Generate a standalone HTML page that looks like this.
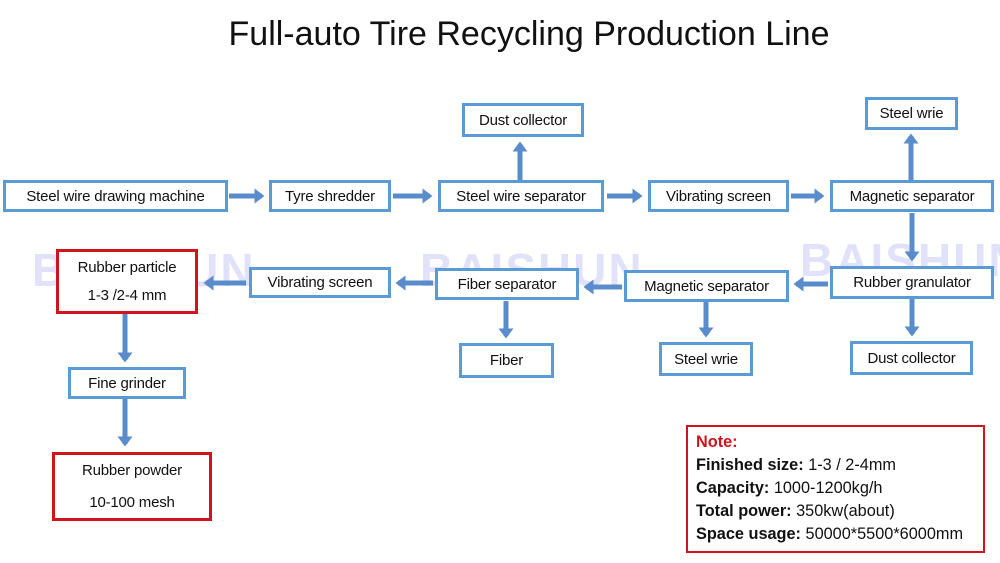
<!DOCTYPE html>
<html><head><meta charset="utf-8"><style>
body{margin:0;width:1000px;height:563px;background:#fff;position:relative;overflow:hidden;font-family:"Liberation Sans",sans-serif;}
.b{position:absolute;box-sizing:border-box;border:3px solid #5b9bd5;background:#fff;display:flex;align-items:center;justify-content:center;font-size:15px;color:#111;white-space:nowrap;letter-spacing:-0.2px}
.r{border-color:#d0141c;flex-direction:column;line-height:32px}
.wm{position:absolute;font-size:46px;font-weight:bold;color:rgba(120,120,230,0.22);letter-spacing:2px}
.note{position:absolute;left:686px;top:425px;width:299px;height:128px;box-sizing:border-box;border:2px solid #d0141c;padding:4px 0 0 8px;font-size:16.3px;line-height:23px;color:#111;white-space:nowrap}
</style></head><body>
<div style="position:absolute;left:0;top:15px;width:1058px;text-align:center;font-size:34px;color:#111">Full-auto Tire Recycling Production Line</div>
<div class="wm" style="left:32px;top:243px">BAISHUN</div>
<div class="wm" style="left:420px;top:243px">BAISHUN</div>
<div class="wm" style="left:800px;top:233px">BAISHUN</div>
<svg width="1000" height="563" style="position:absolute;left:0;top:0">
<defs><marker id="a" markerWidth="3" markerHeight="3" refX="1.5" refY="1.5" orient="auto"><path d="M0,0L2,1.5L0,3z" fill="#5a8ccb"/></marker></defs>
<g stroke="#5a8ccb" stroke-width="5" fill="none" marker-end="url(#a)">
<path d="M229 196H262"/><path d="M393 196H430"/><path d="M607 196H640"/><path d="M791 196H822"/>
<path d="M520 180V144"/><path d="M911 180V136"/><path d="M912 213V259"/>
<path d="M828 284H796"/><path d="M622 287H586"/><path d="M433 283H398"/><path d="M246 283H206"/>
<path d="M506 301V336"/><path d="M706 302V335"/><path d="M912 299V334"/>
<path d="M125 314V360"/><path d="M125 399V444"/>
</g></svg>
<div class="b" style="left:3px;top:180px;width:225px;height:32px">Steel wire drawing machine</div>
<div class="b" style="left:269px;top:180px;width:122px;height:32px">Tyre shredder</div>
<div class="b" style="left:438px;top:180px;width:166px;height:32px">Steel wire separator</div>
<div class="b" style="left:648px;top:180px;width:141px;height:32px">Vibrating screen</div>
<div class="b" style="left:830px;top:180px;width:164px;height:32px">Magnetic separator</div>
<div class="b" style="left:462px;top:103px;width:122px;height:34px">Dust collector</div>
<div class="b" style="left:865px;top:97px;width:93px;height:33px">Steel wrie</div>
<div class="b r" style="left:56px;top:249px;width:142px;height:65px"><span>Rubber particle</span><span style="margin-top:-4px">1-3 /2-4 mm</span></div>
<div class="b" style="left:249px;top:267px;width:142px;height:31px">Vibrating screen</div>
<div class="b" style="left:435px;top:268px;width:144px;height:32px">Fiber separator</div>
<div class="b" style="left:624px;top:270px;width:165px;height:32px">Magnetic separator</div>
<div class="b" style="left:830px;top:266px;width:164px;height:33px">Rubber granulator</div>
<div class="b" style="left:459px;top:343px;width:95px;height:35px">Fiber</div>
<div class="b" style="left:659px;top:342px;width:94px;height:34px">Steel wrie</div>
<div class="b" style="left:850px;top:341px;width:123px;height:34px">Dust collector</div>
<div class="b" style="left:68px;top:367px;width:118px;height:32px">Fine grinder</div>
<div class="b r" style="left:52px;top:452px;width:160px;height:69px"><span>Rubber powder</span><span>10-100 mesh</span></div>
<div class="note"><b style="color:#d0141c">Note:</b><br><b>Finished size:</b> 1-3 / 2-4mm<br><b>Capacity:</b> 1000-1200kg/h<br><b>Total power:</b> 350kw(about)<br><b>Space usage:</b> 50000*5500*6000mm</div>
</body></html>
